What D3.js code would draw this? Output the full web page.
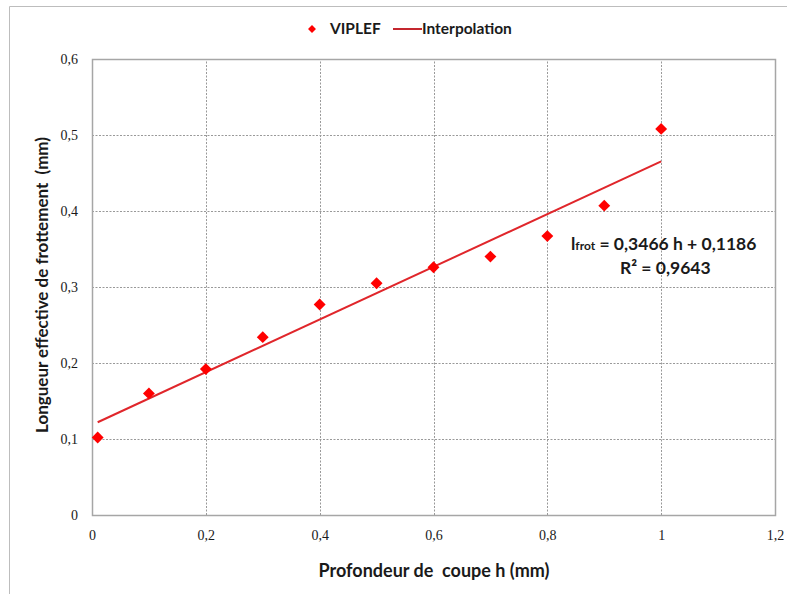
<!DOCTYPE html>
<html>
<head>
<meta charset="utf-8">
<script src="https://cdn.jsdelivr.net/npm/d3@7"></script>
<style>
  body { margin: 0; background: #fff; }
  svg { display: block; }
  .tick text { font-family: "Liberation Serif", serif; font-size: 14px; fill: #1a1a1a; }
  .ttl { font-family: Lato, "Open Sans", sans-serif; font-weight: bold; fill: #1a1a1a; white-space: pre; }
</style>
</head>
<body>
<svg></svg>
<script>
var width = 787,
  height = 594;

// measured values (VIPLEF)
var hValues = [0.01, 0.1, 0.2, 0.3, 0.4, 0.5, 0.6, 0.7, 0.8, 0.9, 1.0];
var lValues = [0.102, 0.160, 0.192, 0.234, 0.277, 0.305, 0.326, 0.340, 0.367, 0.407, 0.508];

// trend line as printed on the chart
var slope = 0.3466, intercept = 0.1186;
var trendRange = [0.01, 1.0];

var xTicks = [0, 0.2, 0.4, 0.6, 0.8, 1, 1.2];
var yTicks = [0, 0.1, 0.2, 0.3, 0.4, 0.5, 0.6];

var frLocale = d3.formatLocale({ decimal: ",", thousands: " ", grouping: [3], currency: ["", "€"] });
var fmt = frLocale.format("~g");

var svg = d3.select("svg")
  .attr("width", width)
  .attr("height", height);

var x = d3.scaleLinear().domain([0, 1.2]).range([92, 775]);
var y = d3.scaleLinear().domain([0, 0.6]).range([515, 59]);

// outer chart frame (left + top only visible)
svg.append("path")
  .attr("d", "M9.5," + height + "V6.5H" + width)
  .attr("fill", "none")
  .attr("stroke", "#bdbdbd");

// gridlines
svg.append("g").selectAll("line")
  .data(xTicks.slice(1, -1))
  .enter().append("line")
  .attr("x1", d => Math.round(x(d)) + 0.5).attr("x2", d => Math.round(x(d)) + 0.5)
  .attr("y1", y(0)).attr("y2", y(0.6))
  .attr("stroke", "#999").attr("stroke-dasharray", "2,1.5");

svg.append("g").selectAll("line")
  .data(yTicks.slice(1, -1))
  .enter().append("line")
  .attr("y1", d => Math.round(y(d)) + 0.5).attr("y2", d => Math.round(y(d)) + 0.5)
  .attr("x1", x(0)).attr("x2", x(1.2))
  .attr("stroke", "#999").attr("stroke-dasharray", "2,1.5");

// plot border
svg.append("rect")
  .attr("x", x(0) + 0.5).attr("y", y(0.6) + 0.5)
  .attr("width", x(1.2) - x(0)).attr("height", y(0) - y(0.6))
  .attr("fill", "none").attr("stroke", "#a6a6a6").attr("stroke-width", 1.5);

// axes (labels only)
svg.append("g")
  .attr("transform", "translate(0," + y(0) + ")")
  .call(d3.axisBottom(x).tickValues(xTicks).tickFormat(fmt).tickSize(0).tickPadding(15));
svg.append("g")
  .attr("transform", "translate(" + x(0) + ",0)")
  .call(d3.axisLeft(y).tickValues(yTicks).tickFormat(fmt).tickSize(0).tickPadding(14));
svg.selectAll(".domain").remove();

// trend line
svg.append("line")
  .attr("x1", x(trendRange[0])).attr("y1", y(slope * trendRange[0] + intercept))
  .attr("x2", x(trendRange[1])).attr("y2", y(slope * trendRange[1] + intercept))
  .attr("stroke", "#e0262b").attr("stroke-width", 2);

// data points
var diamond = d3.symbol().type(d3.symbolDiamond2).size(90);
svg.append("g").selectAll("path")
  .data(hValues)
  .enter().append("path")
  .attr("d", diamond)
  .attr("transform", (d, i) => "translate(" + x(d) + "," + y(lValues[i]) + ")")
  .attr("fill", "#ff0000");

// legend
var leg = svg.append("g");
leg.append("path")
  .attr("d", d3.symbol().type(d3.symbolDiamond2).size(40))
  .attr("transform", "translate(312,29)")
  .attr("fill", "#ff0000");
leg.append("text").attr("class", "ttl")
  .attr("x", 330).attr("y", 34).attr("font-size", 15.5).text("VIPLEF");
leg.append("line")
  .attr("x1", 393).attr("x2", 422).attr("y1", 29).attr("y2", 29)
  .attr("stroke", "#c4262e").attr("stroke-width", 2);
leg.append("text").attr("class", "ttl")
  .attr("x", 422).attr("y", 34).attr("font-size", 15.5).text("Interpolation");

// axis titles
svg.append("text").attr("class", "ttl")
  .attr("x", 434).attr("y", 577).attr("text-anchor", "middle").attr("font-size", 18)
  .text("Profondeur de  coupe h (mm)");
svg.append("text").attr("class", "ttl")
  .attr("transform", "translate(48,285) rotate(-90)")
  .attr("text-anchor", "middle").attr("font-size", 17)
  .text("Longueur effective de frottement  (mm)");

// equation
var eq = svg.append("text").attr("class", "ttl")
  .attr("x", 571).attr("y", 250).attr("font-size", 17.5);
eq.append("tspan").text("l");
eq.append("tspan").attr("font-size", 12).text("frot");
eq.append("tspan").text(" = 0,3466 h + 0,1186");
svg.append("text").attr("class", "ttl")
  .attr("x", 620).attr("y", 274).attr("font-size", 17.5)
  .text("R² = 0,9643");
</script>
</body>
</html>
